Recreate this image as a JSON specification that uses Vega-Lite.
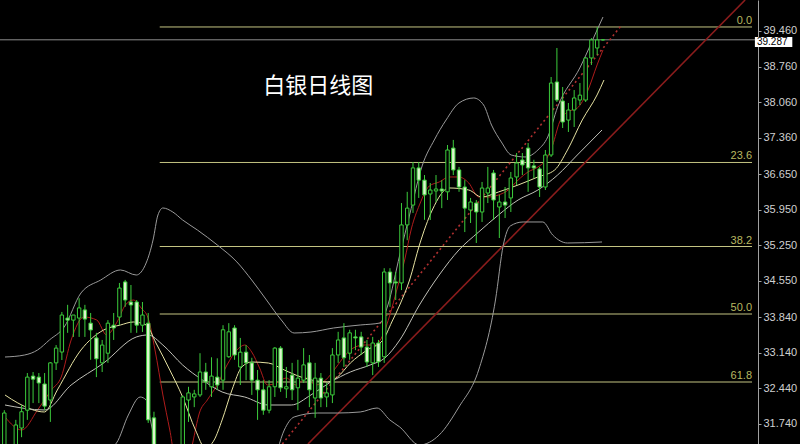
{
"$schema":"https://vega.github.io/schema/vega-lite/v6.json",
"width":758,"height":444,"autosize":{"type":"none"},
"padding":{"left":0,"top":0,"right":42,"bottom":0},
"background":"#000000",
"config":{"view":{"stroke":null},"axis":{"grid":false}},
"datasets":{
"candles":[
{"i":0,"o":31.33,"h":32.01,"l":31.2,"c":31.955},
{"i":1,"o":31.25,"h":31.3,"l":30.9,"c":31.05},
{"i":2,"o":31.25,"h":31.82,"l":31.2,"c":31.72},
{"i":3,"o":31.66,"h":32.11,"l":31.48,"c":31.98},
{"i":4,"o":32.01,"h":32.74,"l":31.82,"c":32.66},
{"i":5,"o":32.68,"h":32.76,"l":32.15,"c":32.62},
{"i":6,"o":32.66,"h":32.74,"l":32.15,"c":32.545},
{"i":7,"o":32.525,"h":32.74,"l":32.01,"c":32.09},
{"i":8,"o":32.21,"h":32.957,"l":31.78,"c":32.94},
{"i":9,"o":32.94,"h":33.29,"l":32.8,"c":33.23},
{"i":10,"o":33.153,"h":33.94,"l":32.996,"c":33.88},
{"i":11,"o":33.82,"h":34.08,"l":33.53,"c":33.78},
{"i":12,"o":33.78,"h":33.88,"l":33.45,"c":33.88},
{"i":13,"o":33.82,"h":34.21,"l":33.45,"c":34.02},
{"i":14,"o":33.98,"h":34.08,"l":33.45,"c":33.8},
{"i":15,"o":33.72,"h":33.92,"l":33.0,"c":33.586},
{"i":16,"o":33.43,"h":33.53,"l":32.66,"c":33.02},
{"i":17,"o":32.94,"h":33.39,"l":32.76,"c":33.29},
{"i":18,"o":33.13,"h":33.78,"l":32.94,"c":33.72},
{"i":19,"o":33.68,"h":33.92,"l":33.39,"c":33.625},
{"i":20,"o":33.84,"h":34.51,"l":33.68,"c":34.41},
{"i":21,"o":34.53,"h":34.57,"l":34.04,"c":34.175},
{"i":22,"o":34.136,"h":34.47,"l":33.53,"c":34.077},
{"i":23,"o":34.136,"h":34.175,"l":33.53,"c":33.68},
{"i":24,"o":33.68,"h":34.136,"l":33.547,"c":33.88},
{"i":25,"o":33.72,"h":33.92,"l":31.76,"c":31.82},
{"i":26,"o":31.86,"h":31.98,"l":30.8,"c":31.0},
{"i":27,"o":31.0,"h":31.25,"l":30.5,"c":30.7},
{"i":28,"o":30.7,"h":31.1,"l":30.4,"c":30.9},
{"i":29,"o":30.9,"h":31.2,"l":30.6,"c":30.8},
{"i":30,"o":30.8,"h":31.3,"l":30.6,"c":31.1},
{"i":31,"o":31.1,"h":32.3,"l":31.0,"c":32.27},
{"i":32,"o":32.21,"h":32.47,"l":31.78,"c":32.35},
{"i":33,"o":32.27,"h":32.41,"l":32.07,"c":32.33},
{"i":34,"o":32.31,"h":33.13,"l":32.27,"c":32.76},
{"i":35,"o":32.76,"h":32.94,"l":32.41,"c":32.565},
{"i":36,"o":32.47,"h":33.05,"l":32.27,"c":32.68},
{"i":37,"o":32.66,"h":33.03,"l":32.41,"c":32.505},
{"i":38,"o":32.6,"h":33.68,"l":32.41,"c":33.59},
{"i":39,"o":33.06,"h":33.72,"l":33.04,"c":33.55},
{"i":40,"o":33.625,"h":33.68,"l":33.0,"c":33.095},
{"i":41,"o":32.86,"h":33.43,"l":32.505,"c":33.15},
{"i":42,"o":33.15,"h":33.29,"l":32.6,"c":32.94},
{"i":43,"o":32.94,"h":33.04,"l":32.31,"c":32.6},
{"i":44,"o":32.6,"h":32.8,"l":31.82,"c":32.41},
{"i":45,"o":32.41,"h":32.6,"l":31.92,"c":32.01},
{"i":46,"o":32.01,"h":32.6,"l":31.95,"c":32.47},
{"i":47,"o":32.47,"h":33.25,"l":32.27,"c":33.23},
{"i":48,"o":33.23,"h":33.27,"l":32.37,"c":32.45},
{"i":49,"o":32.43,"h":32.86,"l":32.25,"c":32.47},
{"i":50,"o":32.7,"h":32.94,"l":32.21,"c":32.41},
{"i":51,"o":32.45,"h":33.0,"l":32.01,"c":32.64},
{"i":52,"o":32.6,"h":33.23,"l":32.545,"c":32.9},
{"i":53,"o":32.94,"h":33.095,"l":32.07,"c":32.41},
{"i":54,"o":32.25,"h":32.94,"l":31.86,"c":32.64},
{"i":55,"o":32.64,"h":32.74,"l":32.07,"c":32.25},
{"i":56,"o":32.27,"h":32.545,"l":32.07,"c":32.35},
{"i":57,"o":32.31,"h":33.23,"l":32.15,"c":33.095},
{"i":58,"o":33.095,"h":33.55,"l":32.94,"c":33.39},
{"i":59,"o":33.43,"h":33.72,"l":32.86,"c":33.04},
{"i":60,"o":33.13,"h":33.59,"l":33.0,"c":33.53},
{"i":61,"o":33.45,"h":33.59,"l":33.19,"c":33.43},
{"i":62,"o":33.45,"h":33.55,"l":33.095,"c":33.25},
{"i":63,"o":33.25,"h":33.39,"l":32.86,"c":32.957},
{"i":64,"o":32.94,"h":33.45,"l":32.7,"c":33.33},
{"i":65,"o":33.33,"h":33.39,"l":32.86,"c":32.96},
{"i":66,"o":33.06,"h":34.8,"l":32.94,"c":34.725},
{"i":67,"o":34.725,"h":34.8,"l":34.04,"c":34.51},
{"i":68,"o":34.53,"h":34.725,"l":34.175,"c":34.51},
{"i":69,"o":34.51,"h":36.08,"l":34.37,"c":35.65},
{"i":70,"o":35.65,"h":36.3,"l":35.35,"c":35.98},
{"i":71,"o":36.04,"h":36.886,"l":35.885,"c":36.77},
{"i":72,"o":36.77,"h":36.886,"l":36.18,"c":36.53},
{"i":73,"o":36.53,"h":36.63,"l":35.75,"c":36.24},
{"i":74,"o":36.258,"h":36.474,"l":35.747,"c":36.336},
{"i":75,"o":36.317,"h":36.63,"l":36.1,"c":36.356},
{"i":76,"o":36.356,"h":36.53,"l":35.98,"c":36.317},
{"i":77,"o":36.3,"h":37.22,"l":36.14,"c":37.122},
{"i":78,"o":37.16,"h":37.32,"l":36.63,"c":36.73},
{"i":79,"o":36.73,"h":36.79,"l":36.3,"c":36.395},
{"i":80,"o":36.395,"h":36.53,"l":35.51,"c":35.98},
{"i":81,"o":35.943,"h":36.18,"l":35.688,"c":36.1},
{"i":82,"o":36.08,"h":36.14,"l":35.295,"c":35.904},
{"i":83,"o":35.904,"h":36.494,"l":35.708,"c":36.375},
{"i":84,"o":36.277,"h":36.79,"l":36.08,"c":36.375},
{"i":85,"o":36.67,"h":36.73,"l":35.747,"c":36.14},
{"i":86,"o":36.002,"h":36.24,"l":35.393,"c":36.1},
{"i":87,"o":36.1,"h":36.395,"l":35.786,"c":36.04},
{"i":88,"o":36.18,"h":36.69,"l":35.904,"c":36.572},
{"i":89,"o":36.592,"h":37.063,"l":36.434,"c":36.867},
{"i":90,"o":36.926,"h":37.063,"l":36.63,"c":36.828},
{"i":91,"o":37.16,"h":37.26,"l":36.3,"c":36.77},
{"i":92,"o":36.81,"h":36.93,"l":36.57,"c":36.77},
{"i":93,"o":36.75,"h":36.79,"l":36.2,"c":36.395},
{"i":94,"o":36.395,"h":37.122,"l":36.336,"c":37.024},
{"i":95,"o":37.024,"h":38.556,"l":36.985,"c":38.438},
{"i":96,"o":38.458,"h":39.126,"l":38.065,"c":38.104},
{"i":97,"o":38.085,"h":38.36,"l":37.554,"c":37.672},
{"i":98,"o":37.71,"h":38.045,"l":37.476,"c":37.908},
{"i":99,"o":37.908,"h":38.3,"l":37.574,"c":38.144},
{"i":100,"o":38.104,"h":38.438,"l":38.006,"c":38.2},
{"i":101,"o":38.104,"h":38.95,"l":38.065,"c":38.93},
{"i":102,"o":38.93,"h":39.32,"l":38.792,"c":39.283},
{"i":103,"o":39.126,"h":39.54,"l":38.99,"c":39.283},
{"i":104,"o":39.287,"h":39.3,"l":39.27,"c":39.287}
],
"lines":[
{"s":"ma5","i":0.12,"p":31.877},{"s":"ma5","i":3.03,"p":31.621},{"s":"ma5","i":5.78,"p":32.014},{"s":"ma5","i":8.18,"p":32.407},{"s":"ma5","i":9.89,"p":32.662},{"s":"ma5","i":11.61,"p":33.389},{"s":"ma5","i":13.84,"p":33.841},{"s":"ma5","i":16.06,"p":33.782},{"s":"ma5","i":17.78,"p":33.488},{"s":"ma5","i":19.49,"p":33.723},{"s":"ma5","i":21.04,"p":34.077},{"s":"ma5","i":22.41,"p":34.175},{"s":"ma5","i":23.78,"p":34.018},{"s":"ma5","i":24.98,"p":33.822},{"s":"ma5","i":26.18,"p":33.193},{"s":"ma5","i":27.55,"p":32.309},{"s":"ma5","i":28.75,"p":31.621},{"s":"ma5","i":30.12,"p":30.835},{"s":"ma5","i":31.66,"p":30.835},{"s":"ma5","i":32.69,"p":31.346},{"s":"ma5","i":33.89,"p":31.955},{"s":"ma5","i":35.27,"p":32.211},{"s":"ma5","i":36.98,"p":32.505},{"s":"ma5","i":38.69,"p":32.898},{"s":"ma5","i":40.41,"p":33.193},{"s":"ma5","i":41.78,"p":33.291},{"s":"ma5","i":42.98,"p":33.154},{"s":"ma5","i":44.35,"p":32.839},{"s":"ma5","i":45.72,"p":32.505},{"s":"ma5","i":47.27,"p":32.545},{"s":"ma5","i":48.98,"p":32.643},{"s":"ma5","i":50.69,"p":32.505},{"s":"ma5","i":52.41,"p":32.643},{"s":"ma5","i":54.12,"p":32.505},{"s":"ma5","i":55.84,"p":32.604},{"s":"ma5","i":57.55,"p":32.839},{"s":"ma5","i":59.27,"p":33.095},{"s":"ma5","i":60.98,"p":33.252},{"s":"ma5","i":62.69,"p":33.291},{"s":"ma5","i":64.41,"p":33.291},{"s":"ma5","i":65.78,"p":33.488},{"s":"ma5","i":66.98,"p":33.88},{"s":"ma5","i":68.18,"p":34.372},{"s":"ma5","i":69.55,"p":34.961},{"s":"ma5","i":70.75,"p":35.59},{"s":"ma5","i":72.12,"p":36.042},{"s":"ma5","i":73.84,"p":36.415},{"s":"ma5","i":75.55,"p":36.493},{"s":"ma5","i":77.27,"p":36.592},{"s":"ma5","i":78.98,"p":36.592},{"s":"ma5","i":80.69,"p":36.474},{"s":"ma5","i":82.41,"p":36.199},{"s":"ma5","i":84.12,"p":36.199},{"s":"ma5","i":85.84,"p":36.238},{"s":"ma5","i":87.55,"p":36.336},{"s":"ma5","i":89.27,"p":36.533},{"s":"ma5","i":90.98,"p":36.69},{"s":"ma5","i":92.7,"p":36.788},{"s":"ma5","i":94.07,"p":36.926},{"s":"ma5","i":95.27,"p":37.22},{"s":"ma5","i":96.47,"p":37.672},{"s":"ma5","i":97.84,"p":37.869},{"s":"ma5","i":99.55,"p":37.947},{"s":"ma5","i":101.27,"p":38.262},{"s":"ma5","i":102.98,"p":38.792},{"s":"ma5","i":104.01,"p":39.087},
{"s":"ma10","i":0.12,"p":32.309},{"s":"ma10","i":2.35,"p":32.152},{"s":"ma10","i":6.98,"p":31.975},{"s":"ma10","i":9.21,"p":32.407},{"s":"ma10","i":13.32,"p":33.193},{"s":"ma10","i":17.26,"p":33.586},{"s":"ma10","i":20.18,"p":33.684},{"s":"ma10","i":22.41,"p":33.743},{"s":"ma10","i":24.64,"p":33.684},{"s":"ma10","i":26.35,"p":33.33},{"s":"ma10","i":28.75,"p":32.8},{"s":"ma10","i":30.98,"p":32.269},{"s":"ma10","i":33.21,"p":31.621},{"s":"ma10","i":34.92,"p":31.268},{"s":"ma10","i":36.46,"p":31.425},{"s":"ma10","i":37.84,"p":31.818},{"s":"ma10","i":39.55,"p":32.407},{"s":"ma10","i":41.27,"p":32.859},{"s":"ma10","i":42.98,"p":32.957},{"s":"ma10","i":45.89,"p":32.937},{"s":"ma10","i":48.64,"p":32.8},{"s":"ma10","i":51.55,"p":32.662},{"s":"ma10","i":56.18,"p":32.564},{"s":"ma10","i":57.89,"p":32.662},{"s":"ma10","i":60.12,"p":32.937},{"s":"ma10","i":63.04,"p":33.193},{"s":"ma10","i":65.78,"p":33.389},{"s":"ma10","i":67.32,"p":33.743},{"s":"ma10","i":68.7,"p":34.077},{"s":"ma10","i":70.41,"p":34.568},{"s":"ma10","i":72.12,"p":35.256},{"s":"ma10","i":74.35,"p":35.943},{"s":"ma10","i":77.27,"p":36.376},{"s":"ma10","i":80.69,"p":36.336},{"s":"ma10","i":82.92,"p":36.199},{"s":"ma10","i":85.84,"p":36.297},{"s":"ma10","i":89.27,"p":36.435},{"s":"ma10","i":92.7,"p":36.592},{"s":"ma10","i":95.61,"p":36.729},{"s":"ma10","i":97.84,"p":37.122},{"s":"ma10","i":100.41,"p":37.712},{"s":"ma10","i":102.98,"p":38.203},{"s":"ma10","i":104.18,"p":38.497},
{"s":"mid","i":0.12,"p":32.112},{"s":"mid","i":6.98,"p":32.014},{"s":"mid","i":11.61,"p":32.505},{"s":"mid","i":17.26,"p":32.937},{"s":"mid","i":22.92,"p":33.448},{"s":"mid","i":24.98,"p":33.488},{"s":"mid","i":27.55,"p":33.291},{"s":"mid","i":30.98,"p":32.898},{"s":"mid","i":34.41,"p":32.604},{"s":"mid","i":37.84,"p":32.368},{"s":"mid","i":41.78,"p":32.269},{"s":"mid","i":45.89,"p":32.112},{"s":"mid","i":49.84,"p":32.112},{"s":"mid","i":53.27,"p":32.309},{"s":"mid","i":56.7,"p":32.564},{"s":"mid","i":60.12,"p":32.761},{"s":"mid","i":63.55,"p":32.898},{"s":"mid","i":66.12,"p":33.036},{"s":"mid","i":68.7,"p":33.389},{"s":"mid","i":72.12,"p":34.077},{"s":"mid","i":75.55,"p":34.666},{"s":"mid","i":78.98,"p":35.158},{"s":"mid","i":82.41,"p":35.511},{"s":"mid","i":85.84,"p":35.845},{"s":"mid","i":89.27,"p":36.14},{"s":"mid","i":92.7,"p":36.336},{"s":"mid","i":96.13,"p":36.631},{"s":"mid","i":99.55,"p":37.024},{"s":"mid","i":103.84,"p":37.515},
{"s":"upper","i":0.12,"p":33.055},{"s":"upper","i":3.55,"p":33.095},{"s":"upper","i":5.78,"p":33.193},{"s":"upper","i":7.83,"p":33.389},{"s":"upper","i":10.41,"p":33.645},{"s":"upper","i":13.32,"p":34.313},{"s":"upper","i":16.75,"p":34.568},{"s":"upper","i":20.18,"p":34.765},{"s":"upper","i":22.92,"p":34.666},{"s":"upper","i":24.64,"p":34.902},{"s":"upper","i":25.84,"p":35.354},{"s":"upper","i":26.69,"p":35.845},{"s":"upper","i":27.55,"p":35.983},{"s":"upper","i":29.27,"p":35.904},{"s":"upper","i":30.98,"p":35.747},{"s":"upper","i":33.55,"p":35.55},{"s":"upper","i":37.0,"p":35.256},{"s":"upper","i":40.41,"p":34.922},{"s":"upper","i":42.98,"p":34.568},{"s":"upper","i":45.55,"p":34.175},{"s":"upper","i":48.12,"p":33.782},{"s":"upper","i":50.35,"p":33.527},{"s":"upper","i":53.27,"p":33.546},{"s":"upper","i":57.21,"p":33.625},{"s":"upper","i":61.84,"p":33.684},{"s":"upper","i":65.27,"p":33.723},{"s":"upper","i":66.64,"p":34.077},{"s":"upper","i":68.7,"p":35.059},{"s":"upper","i":70.41,"p":35.845},{"s":"upper","i":72.64,"p":36.827},{"s":"upper","i":74.7,"p":37.319},{"s":"upper","i":76.75,"p":37.712},{"s":"upper","i":78.98,"p":38.045},{"s":"upper","i":81.55,"p":38.144},{"s":"upper","i":83.27,"p":38.006},{"s":"upper","i":84.64,"p":37.613},{"s":"upper","i":86.35,"p":37.279},{"s":"upper","i":88.07,"p":37.024},{"s":"upper","i":90.47,"p":36.985},{"s":"upper","i":92.7,"p":37.122},{"s":"upper","i":94.41,"p":37.378},{"s":"upper","i":96.13,"p":37.967},{"s":"upper","i":100.07,"p":38.753},{"s":"upper","i":102.98,"p":39.48},{"s":"upper","i":104.01,"p":39.735},
{"s":"lower","i":0.12,"p":30.835},{"s":"lower","i":10.41,"p":31.032},{"s":"lower","i":16.41,"p":31.13},{"s":"lower","i":19.49,"p":31.366},{"s":"lower","i":21.55,"p":31.916},{"s":"lower","i":23.61,"p":32.269},{"s":"lower","i":24.64,"p":32.211},{"s":"lower","i":25.49,"p":31.759},{"s":"lower","i":26.69,"p":31.13},{"s":"lower","i":28.41,"p":30.246},{"s":"lower","i":34.41,"p":29.853},{"s":"lower","i":41.27,"p":30.049},{"s":"lower","i":46.41,"p":30.835},{"s":"lower","i":48.64,"p":31.621},{"s":"lower","i":50.35,"p":31.877},{"s":"lower","i":54.47,"p":31.955},{"s":"lower","i":57.89,"p":31.955},{"s":"lower","i":61.84,"p":31.975},{"s":"lower","i":64.75,"p":32.053},{"s":"lower","i":66.98,"p":31.818},{"s":"lower","i":68.7,"p":31.68},{"s":"lower","i":72.12,"p":31.327},{"s":"lower","i":75.55,"p":31.523},{"s":"lower","i":78.98,"p":32.073},{"s":"lower","i":82.41,"p":32.8},{"s":"lower","i":85.33,"p":34.175},{"s":"lower","i":86.69,"p":35.256},{"s":"lower","i":87.9,"p":35.629},{"s":"lower","i":90.13,"p":35.708},{"s":"lower","i":93.55,"p":35.708},{"s":"lower","i":95.27,"p":35.452},{"s":"lower","i":97.84,"p":35.295},{"s":"lower","i":103.84,"p":35.315}
],
"fib":[
{"lab":"0.0","v":39.539,"a":27.0,"b":129.9},
{"lab":"23.6","v":36.877,"a":27.0,"b":129.9},
{"lab":"38.2","v":35.226,"a":27.0,"b":129.9},
{"lab":"50.0","v":33.9,"a":27.0,"b":129.9},
{"lab":"61.8","v":32.564,"a":27.0,"b":129.9}
],
"trend":[{"t":"solid","i1":52.75,"p1":31.346,"i2":128.7,"p2":40.069},{"t":"dot","i1":48.3,"p1":31.346,"i2":107.27,"p2":39.578}],
"price":[{"v":39.287,"lab":"39.287","a":130.4,"b":136.9,"top":39.342,"bot":39.146,"tv":39.244,"tx":130.75}],
"title":[{"t":"白银日线图","i":45.0,"p":38.379}]
},
"layer":[
{"data":{"name":"fib"},"mark":{"type":"rule","color":"#c4c482","strokeWidth":1},
 "encoding":{"x":{"field":"a","type":"quantitative","scale":{"domain":[0.12,130.07],"nice":false,"zero":false},"axis":null},"x2":{"field":"b"},
 "y":{"field":"v","type":"quantitative","scale":{"domain":[31.346,40.069],"nice":false,"zero":false},
   "axis":{"orient":"right","values":[39.46,38.76,38.06,37.36,36.65,35.95,35.25,34.55,33.84,33.14,32.44,31.74],"format":".3f","title":null,"labelFont":"Liberation Sans","labelFontSize":11,"labelColor":"#d0d0d0","domainColor":"#a0a0a0","tickColor":"#a0a0a0","tickSize":3,"labelPadding":2,"grid":false}}}},
{"data":{"name":"fib"},"mark":{"type":"text","align":"right","baseline":"bottom","dy":-1,"font":"Liberation Sans","fontSize":11,"color":"#b8b860"},
 "encoding":{"x":{"field":"b","type":"quantitative","scale":{"domain":[0.12,130.07],"nice":false,"zero":false},"axis":null},
 "y":{"field":"v","type":"quantitative","scale":{"domain":[31.346,40.069],"nice":false,"zero":false},"axis":{"orient":"right","values":[39.46,38.76,38.06,37.36,36.65,35.95,35.25,34.55,33.84,33.14,32.44,31.74],"format":".3f","title":null,"labelFont":"Liberation Sans","labelFontSize":11,"labelColor":"#d0d0d0","domainColor":"#a0a0a0","tickColor":"#a0a0a0","tickSize":3,"labelPadding":2,"grid":false}},"text":{"field":"lab"}}},
{"data":{"name":"price"},"mark":{"type":"rule","color":"#8c8c8c","strokeWidth":1},
 "encoding":{"y":{"field":"v","type":"quantitative","scale":{"domain":[31.346,40.069],"nice":false,"zero":false},"axis":{"orient":"right","values":[39.46,38.76,38.06,37.36,36.65,35.95,35.25,34.55,33.84,33.14,32.44,31.74],"format":".3f","title":null,"labelFont":"Liberation Sans","labelFontSize":11,"labelColor":"#d0d0d0","domainColor":"#a0a0a0","tickColor":"#a0a0a0","tickSize":3,"labelPadding":2,"grid":false}}}},
{"data":{"name":"trend"},"transform":[{"filter":"datum.t=='solid'"}],"mark":{"type":"rule","color":"#8a1c1c","strokeWidth":1.6,"clip":true},
 "encoding":{"x":{"field":"i1","type":"quantitative","scale":{"domain":[0.12,130.07],"nice":false,"zero":false},"axis":null},"x2":{"field":"i2"},
 "y":{"field":"p1","type":"quantitative","scale":{"domain":[31.346,40.069],"nice":false,"zero":false},"axis":{"orient":"right","values":[39.46,38.76,38.06,37.36,36.65,35.95,35.25,34.55,33.84,33.14,32.44,31.74],"format":".3f","title":null,"labelFont":"Liberation Sans","labelFontSize":11,"labelColor":"#d0d0d0","domainColor":"#a0a0a0","tickColor":"#a0a0a0","tickSize":3,"labelPadding":2,"grid":false}},"y2":{"field":"p2"}}},
{"data":{"name":"trend"},"transform":[{"filter":"datum.t=='dot'"}],"mark":{"type":"rule","color":"#b03030","strokeWidth":1.6,"strokeDash":[2,3],"clip":true},
 "encoding":{"x":{"field":"i1","type":"quantitative","scale":{"domain":[0.12,130.07],"nice":false,"zero":false},"axis":null},"x2":{"field":"i2"},
 "y":{"field":"p1","type":"quantitative","scale":{"domain":[31.346,40.069],"nice":false,"zero":false},"axis":{"orient":"right","values":[39.46,38.76,38.06,37.36,36.65,35.95,35.25,34.55,33.84,33.14,32.44,31.74],"format":".3f","title":null,"labelFont":"Liberation Sans","labelFontSize":11,"labelColor":"#d0d0d0","domainColor":"#a0a0a0","tickColor":"#a0a0a0","tickSize":3,"labelPadding":2,"grid":false}},"y2":{"field":"p2"}}},
{"data":{"name":"lines"},"mark":{"type":"line","strokeWidth":1,"clip":true,"interpolate":"monotone"},
 "encoding":{"x":{"field":"i","type":"quantitative","scale":{"domain":[0.12,130.07],"nice":false,"zero":false},"axis":null},
 "y":{"field":"p","type":"quantitative","scale":{"domain":[31.346,40.069],"nice":false,"zero":false},"axis":{"orient":"right","values":[39.46,38.76,38.06,37.36,36.65,35.95,35.25,34.55,33.84,33.14,32.44,31.74],"format":".3f","title":null,"labelFont":"Liberation Sans","labelFontSize":11,"labelColor":"#d0d0d0","domainColor":"#a0a0a0","tickColor":"#a0a0a0","tickSize":3,"labelPadding":2,"grid":false}},
 "detail":{"field":"s"},
 "color":{"field":"s","type":"nominal","scale":{"domain":["ma5","ma10","mid","upper","lower"],"range":["#b01c1c","#e6e2a2","#c0c0b8","#9a9a9a","#9a9a9a"]},"legend":null}}},
{"data":{"name":"candles"},"mark":{"type":"rule","color":"#3ccc3c","strokeWidth":1,"clip":true},
 "encoding":{"x":{"field":"i","type":"quantitative","scale":{"domain":[0.12,130.07],"nice":false,"zero":false},"axis":null},
 "y":{"field":"l","type":"quantitative","scale":{"domain":[31.346,40.069],"nice":false,"zero":false},"axis":{"orient":"right","values":[39.46,38.76,38.06,37.36,36.65,35.95,35.25,34.55,33.84,33.14,32.44,31.74],"format":".3f","title":null,"labelFont":"Liberation Sans","labelFontSize":11,"labelColor":"#d0d0d0","domainColor":"#a0a0a0","tickColor":"#a0a0a0","tickSize":3,"labelPadding":2,"grid":false}},"y2":{"field":"h"}}},
{"data":{"name":"candles"},"mark":{"type":"bar","width":3.4,"stroke":"#3ccc3c","strokeWidth":1,"clip":true},
 "encoding":{"x":{"field":"i","type":"quantitative","scale":{"domain":[0.12,130.07],"nice":false,"zero":false},"axis":null},
 "y":{"field":"o","type":"quantitative","scale":{"domain":[31.346,40.069],"nice":false,"zero":false},"axis":{"orient":"right","values":[39.46,38.76,38.06,37.36,36.65,35.95,35.25,34.55,33.84,33.14,32.44,31.74],"format":".3f","title":null,"labelFont":"Liberation Sans","labelFontSize":11,"labelColor":"#d0d0d0","domainColor":"#a0a0a0","tickColor":"#a0a0a0","tickSize":3,"labelPadding":2,"grid":false}},"y2":{"field":"c"},
 "fill":{"condition":{"test":"datum.c >= datum.o","value":"#000000"},"value":"#dcf4cc"}}},
{"data":{"name":"price"},"mark":{"type":"rect","fill":"#ffffff"},
 "encoding":{"x":{"field":"a","type":"quantitative","scale":{"domain":[0.12,130.07],"nice":false,"zero":false},"axis":null},"x2":{"field":"b"},
 "y":{"field":"top","type":"quantitative","scale":{"domain":[31.346,40.069],"nice":false,"zero":false},"axis":{"orient":"right","values":[39.46,38.76,38.06,37.36,36.65,35.95,35.25,34.55,33.84,33.14,32.44,31.74],"format":".3f","title":null,"labelFont":"Liberation Sans","labelFontSize":11,"labelColor":"#d0d0d0","domainColor":"#a0a0a0","tickColor":"#a0a0a0","tickSize":3,"labelPadding":2,"grid":false}},"y2":{"field":"bot"}}},
{"data":{"name":"price"},"mark":{"type":"text","align":"left","baseline":"middle","font":"Liberation Sans","fontSize":10,"color":"#000000"},
 "encoding":{"x":{"field":"tx","type":"quantitative","scale":{"domain":[0.12,130.07],"nice":false,"zero":false},"axis":null},
 "y":{"field":"tv","type":"quantitative","scale":{"domain":[31.346,40.069],"nice":false,"zero":false},"axis":{"orient":"right","values":[39.46,38.76,38.06,37.36,36.65,35.95,35.25,34.55,33.84,33.14,32.44,31.74],"format":".3f","title":null,"labelFont":"Liberation Sans","labelFontSize":11,"labelColor":"#d0d0d0","domainColor":"#a0a0a0","tickColor":"#a0a0a0","tickSize":3,"labelPadding":2,"grid":false}},"text":{"field":"lab"}}},
{"data":{"name":"title"},"mark":{"type":"text","align":"left","baseline":"middle","font":"Noto Sans CJK SC","fontSize":22,"color":"#ffffff"},
 "encoding":{"x":{"field":"i","type":"quantitative","scale":{"domain":[0.12,130.07],"nice":false,"zero":false},"axis":null},
 "y":{"field":"p","type":"quantitative","scale":{"domain":[31.346,40.069],"nice":false,"zero":false},"axis":{"orient":"right","values":[39.46,38.76,38.06,37.36,36.65,35.95,35.25,34.55,33.84,33.14,32.44,31.74],"format":".3f","title":null,"labelFont":"Liberation Sans","labelFontSize":11,"labelColor":"#d0d0d0","domainColor":"#a0a0a0","tickColor":"#a0a0a0","tickSize":3,"labelPadding":2,"grid":false}},"text":{"field":"t"}}}
]
}
